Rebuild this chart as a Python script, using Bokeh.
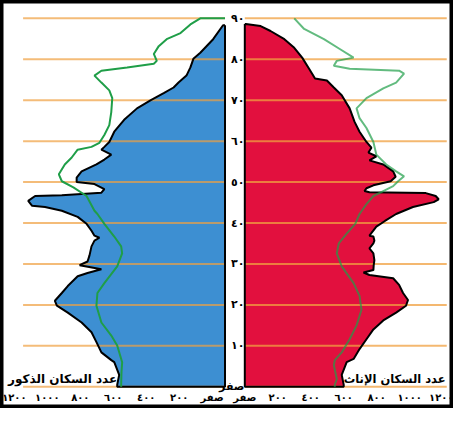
from bokeh.plotting import figure
from bokeh.models import Range1d, LinearAxis, FixedTicker, Label
from bokeh.embed import file_html
from bokeh.resources import INLINE

# ---------------- data ----------------
male_ages = [88.3, 84.9, 81.6, 80.1, 78.0, 76.0, 74.3, 73.1, 71.7, 70.0, 68.0, 65.2, 62.3,
             59.8, 58.6, 57.9, 56.7, 55.5, 54.3, 52.6, 51.1, 50.0, 49.5, 48.3, 47.4, 46.8,
             46.6, 45.4, 44.2, 43.9, 43.0, 41.5, 39.8, 38.1, 36.9, 36.4, 35.7, 34.3, 32.1,
             30.6, 29.7, 28.7, 27.8, 27.0, 24.6, 22.9, 21.0, 19.8, 18.1, 15.7, 13.3, 10.9,
             8.4, 6.5, 6.0, 2.9, 0.5, 0.0]
male_pop = [12, 72, 150, 192, 210, 234, 282, 312, 372, 450, 534, 612, 672,
            702, 732, 750, 690, 732, 780, 870, 900, 900, 792, 732, 750, 990,
            1152, 1194, 1170, 1092, 990, 894, 840, 810, 792, 762, 792, 810, 822,
            834, 882, 750, 834, 894, 954, 990, 1032, 1020, 954, 870, 810, 780,
            750, 690, 672, 642, 654, 654]

female_ages = [88.6, 88.1, 86.9, 84.9, 82.8, 80.4, 77.7, 75.3, 74.8, 73.1, 71.2, 68.0, 64.7,
               62.3, 59.8, 58.4, 57.2, 56.3, 55.3, 54.3, 52.6, 51.3, 50.2, 49.2, 48.5, 47.8,
               47.5, 47.3, 46.6, 45.8, 45.1, 43.9, 42.2, 40.5, 39.1, 36.9, 36.7, 35.7, 35.0,
               33.8, 32.6, 30.9, 29.7, 28.5, 27.9, 27.3, 26.5, 24.9, 22.9, 21.2, 19.8, 18.1,
               16.2, 14.0, 11.6, 9.2, 6.8, 6.0, 2.9, 0.5, 0.0]
female_pop = [6, 96, 156, 240, 300, 348, 390, 426, 498, 540, 588, 636, 666,
              696, 738, 768, 750, 798, 756, 840, 900, 915, 885, 780, 738, 726,
              756, 1098, 1158, 1176, 1146, 1020, 918, 850, 798, 756, 780, 786, 780,
              756, 780, 786, 782, 780, 720, 756, 900, 936, 960, 990, 978, 918,
              840, 780, 738, 696, 660, 618, 588, 600, 600]

male_green_ages = [90.0, 90.0, 88.5, 86.4, 84.9, 83.2, 81.3, 79.6, 78.9, 78.0, 77.2, 76.0, 74.3,
                   72.4, 70.5, 67.1, 63.9, 61.5, 59.6, 58.6, 57.9, 56.0, 54.3, 51.9, 50.2,
                   48.7, 46.6, 43.0, 42.2, 39.8, 36.7, 34.3, 32.6, 29.4, 25.3, 22.9, 19.8,
                   15.7, 12.5, 10.1, 6.0, 3.6, 0.5, 0.0]
male_green_pop = [0, 150, 210, 270, 354, 402, 432, 414, 432, 594, 750, 792, 750,
                  702, 684, 690, 702, 732, 762, 810, 894, 930, 972, 1008, 990,
                  920, 840, 792, 774, 732, 672, 630, 624, 654, 732, 774, 780,
                  750, 690, 654, 624, 628, 630, 630]

female_green_ages = [90.0, 87.4, 84.9, 82.5, 80.4, 79.6, 78.4, 77.7, 77.2, 76.5, 74.3, 72.9,
                     70.5, 68.0, 65.6, 63.2, 59.8, 56.7, 54.3, 52.6, 51.4, 50.2, 49.0, 47.8,
                     46.6, 44.6, 42.2, 39.8, 37.4, 35.0, 32.6, 29.4, 25.3, 22.2, 18.8, 15.0,
                     11.6, 8.4, 6.5, 5.3, 1.9, 0.5, 0.0]
female_green_pop = [300, 360, 480, 576, 660, 558, 540, 636, 936, 966, 918, 840,
                    738, 678, 696, 738, 780, 798, 858, 918, 966, 930, 900, 840,
                    780, 738, 696, 670, 618, 570, 558, 588, 660, 696, 708, 678,
                    636, 588, 546, 540, 558, 546, 546]

grid_ages = [0, 10, 20, 30, 40, 50, 60, 70, 80, 90]
age_tick_labels = ["صفر", "١٠", "٢٠", "٣٠", "٤٠", "٥٠", "٦٠", "٧٠", "٨٠", "٩٠"]
pop_ticks = [0, 200, 400, 600, 800, 1000, 1200]
pop_tick_labels = ["صفر", "٢٠٠", "٤٠٠", "٦٠٠", "٨٠٠", "١٠٠٠", "١٢٠٠"]
male_title = "عدد السكان الذكور"
female_title = "عدد السكان الإناث"

# ---------------- styling / geometry ----------------
GAP = 60          # half width of central age-label column (population units)
LEFT_SHIFT = 78   # left tick labels sit a little further out in the original
GRID_LEN = 1225
BLUE = "#3d8fd2"
RED = "#e2103e"
GREEN = "#1f9e48"
GRID = "#f0a040"
FONT = "DejaVu Sans"


def mx(v):
    return -(GAP + v)


def fx(v):
    return GAP + v


p = figure(width=453, height=408, output_backend="svg", toolbar_location=None,
           x_range=Range1d(-1422, 1326), y_range=Range1d(-5.31, 94.35),
           x_axis_type=None, y_axis_type=None, min_border=0)
p.outline_line_color = "black"
p.outline_line_width = 6
p.background_fill_color = "white"
p.border_fill_color = "white"

# filled pyramids
m_xs = [mx(0)] + [mx(v) for v in male_pop] + [mx(0)]
m_ys = [male_ages[0]] + male_ages + [male_ages[-1]]
f_xs = [fx(0)] + [fx(v) for v in female_pop] + [fx(0)]
f_ys = [female_ages[0]] + female_ages + [female_ages[-1]]
p.patch(m_xs, m_ys, fill_color=BLUE, line_color=None)
p.patch(f_xs, f_ys, fill_color=RED, line_color=None)

# horizontal age lines
n = len(grid_ages)
p.segment(x0=[mx(0)] * n, y0=grid_ages, x1=[mx(GRID_LEN)] * n, y1=grid_ages,
          line_color=GRID, line_width=2, line_alpha=0.7)
p.segment(x0=[fx(0)] * n, y0=grid_ages, x1=[fx(GRID_LEN)] * n, y1=grid_ages,
          line_color=GRID, line_width=2, line_alpha=0.75)

# black outlines
p.line(m_xs + [m_xs[0]], m_ys + [m_ys[0]], line_color="black", line_width=2)
p.line(f_xs + [f_xs[0]], f_ys + [f_ys[0]], line_color="black", line_width=2)

# green comparison lines
p.line([mx(v) for v in male_green_pop], male_green_ages, line_color=GREEN, line_width=2)
p.line([fx(v) for v in female_green_pop], female_green_ages, line_color=GREEN,
       line_width=2, line_alpha=0.7)

# central age labels
yax = LinearAxis(ticker=FixedTicker(ticks=grid_ages),
                 major_label_overrides={a: t for a, t in zip(grid_ages, age_tick_labels)},
                 fixed_location=58, axis_line_color=None, major_tick_line_color=None,
                 minor_tick_line_color=None, major_tick_out=0, major_tick_in=0,
                 major_label_standoff=0, major_label_text_font=FONT,
                 major_label_text_font_size="11px", major_label_text_font_style="bold",
                 major_label_text_color="black")
p.add_layout(yax, "left")

# population tick labels
x_ticks = [mx(v + LEFT_SHIFT) for v in pop_ticks] + [fx(v) for v in pop_ticks]
x_labels = pop_tick_labels + pop_tick_labels
xax = LinearAxis(ticker=FixedTicker(ticks=x_ticks),
                 major_label_overrides={t: s for t, s in zip(x_ticks, x_labels)},
                 fixed_location=-1.4, axis_line_color=None, major_tick_line_color=None,
                 minor_tick_line_color=None, major_tick_out=0, major_tick_in=0,
                 major_label_standoff=0, major_label_text_font=FONT,
                 major_label_text_font_size="10px", major_label_text_font_style="bold",
                 major_label_text_color="black")
p.add_layout(xax, "below")

# titles
p.add_layout(Label(x=mx(male_pop[-1]), y=1.9, text=male_title, text_align="right",
                   text_baseline="middle", text_font=FONT, text_font_size="12px",
                   text_font_style="bold", text_color="black"))
p.add_layout(Label(x=fx(female_pop[-1]), y=1.9, text=female_title, text_align="left",
                   text_baseline="middle", text_font=FONT, text_font_size="11.5px",
                   text_font_style="bold", text_color="black"))

open("out.html", "w").write(file_html(p, INLINE))
